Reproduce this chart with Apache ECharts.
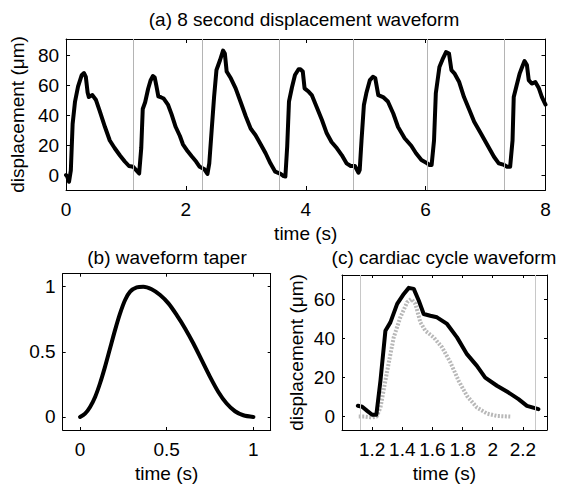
<!DOCTYPE html>
<html><head><meta charset="utf-8">
<script src="https://cdn.jsdelivr.net/npm/echarts@6/dist/echarts.min.js"></script>
<style>html,body{margin:0;padding:0;background:#fff}#c{width:562px;height:488px}</style>
</head><body><div id="c"></div>
<script>
// (a) 8 second displacement waveform
const waveTime = [0.00,0.02,0.05,0.08,0.11,0.15,0.20,0.26,0.30,0.33,0.36,0.38,0.44,0.50,0.56,0.65,0.73,0.81,0.90,0.98,1.05,1.12,1.17,1.22,1.23,1.255,1.28,1.32,1.37,1.41,1.45,1.48,1.51,1.54,1.59,1.63,1.70,1.76,1.83,1.90,1.95,2.03,2.10,2.17,2.23,2.31,2.36,2.39,2.43,2.47,2.51,2.57,2.62,2.65,2.68,2.75,2.83,2.91,3.00,3.08,3.16,3.24,3.33,3.41,3.49,3.58,3.63,3.66,3.69,3.72,3.77,3.82,3.88,3.91,3.95,3.98,4.05,4.10,4.18,4.27,4.35,4.43,4.52,4.60,4.68,4.75,4.82,4.88,4.90,4.93,4.97,5.01,5.07,5.12,5.16,5.21,5.29,5.37,5.46,5.54,5.65,5.76,5.84,5.93,6.01,6.06,6.10,6.14,6.17,6.23,6.29,6.34,6.39,6.43,6.48,6.56,6.64,6.73,6.81,6.92,7.03,7.14,7.22,7.31,7.36,7.41,7.45,7.47,7.52,7.57,7.61,7.65,7.69,7.72,7.77,7.83,7.89,7.94,8.00];
const waveDisp = [0,-1,-4.5,3,34,49,59,66.5,68,65.5,55,52,53.3,50,43,32,23,18,13,9,6,5.5,3.3,1.0,1.0,18,44,48.5,57.5,63,66,65,59,52.5,51.7,51,47,40.6,32,26,20.5,15.8,12.3,9,5.5,3.8,0.7,7.8,30,52,70,76.7,83,81,69,64.5,57.8,49,39,31,26.7,21,14.5,7.8,2.2,0.7,-0.7,-1,19,49,58.5,66.7,70.5,70.5,69,57.8,55.5,53.3,45.5,36.7,27.8,22,17.8,13.3,7.8,6,6,1.5,3.3,23,46.7,54.5,63.3,65.5,64.5,53.3,52,49,41,32,24.5,19.5,14.5,10,8.2,6.7,6.7,23,54.5,72,77.8,82,81,70,67.8,62,52,43.3,35.5,27.8,20,12.2,7.8,6.7,5.5,5.5,23,52,60,67.8,72,76,73.3,63.3,61,62,57.8,52,47];
const cycleBoundaries = [1.116, 2.28, 3.56, 4.79, 6.02, 7.31];

// (b) waveform taper
const taperTime = [0,0.029,0.058,0.087,0.115,0.144,0.173,0.202,0.231,0.26,0.289,0.327,0.365,0.413,0.462,0.51,0.558,0.606,0.654,0.702,0.75,0.798,0.846,0.894,0.942,1.0];
const taperValue = [0,0.026,0.077,0.154,0.257,0.385,0.526,0.667,0.795,0.898,0.962,0.995,1.0,0.98,0.936,0.872,0.782,0.68,0.564,0.436,0.308,0.192,0.103,0.044,0.013,0];

// (c) cardiac cycle waveform
const cycleTime = [1.105,1.134,1.167,1.2,1.228,1.255,1.288,1.321,1.366,1.41,1.443,1.476,1.509,1.542,1.586,1.63,1.697,1.763,1.829,1.895,1.95,2.028,2.105,2.171,2.227,2.303];
const cycleDisp = [5.5,5,2.9,0.9,0.9,18.3,44,48.3,57.8,62.9,66,65.5,59.5,52.6,51.7,50.9,47.5,40.6,32,26,20,15.8,12.3,8.9,5.5,3.8];
const taperedTime = [1.111,1.15,1.2,1.23,1.255,1.3,1.343,1.387,1.432,1.46,1.487,1.52,1.553,1.608,1.664,1.719,1.774,1.829,1.895,1.962,2.028,2.116];
const taperedDisp = [0,0,-0.5,0,4.6,23.5,40.6,50.9,58.6,60.3,57.8,48.3,44,40.6,35.5,27.8,18.3,10.6,4.6,1.5,0.3,0];
const cycleMarks = [1.116, 2.28];

// tick labels
const ticksAx = [0,2,4,6,8];
const ticksAy = [0,20,40,60,80];
const ticksB = [0,0.5,1];
const ticksCx = [1.2,1.4,1.6,1.8,2,2.2];
const ticksCy = [0,20,40,60];

const FONT = 'Liberation Sans, Arial, Helvetica, sans-serif';
const FS = 19;
const fmt = v => String(parseFloat(Number(v).toFixed(3)));

function xAx(grid, min, max, ticks, name, top, tl) {
  return {
    type: 'value', gridIndex: grid, min: min, max: max, position: top ? 'top' : 'bottom',
    name: top ? '' : name, nameLocation: 'middle', nameGap: 34,
    nameTextStyle: {fontFamily: FONT, fontSize: FS, color: '#000'},
    axisLine: {show: true, onZero: false, lineStyle: {color: '#000', width: 1}},
    axisTick: {show: true, inside: true, length: tl, customValues: ticks, lineStyle: {color: '#000'}},
    axisLabel: {show: !top, customValues: ticks, margin: 10, fontFamily: FONT, fontSize: FS, color: '#000', formatter: fmt},
    splitLine: {show: false}
  };
}
function yAx(grid, min, max, ticks, name, right, tl) {
  return {
    type: 'value', gridIndex: grid, min: min, max: max, position: right ? 'right' : 'left',
    name: right ? '' : name, nameLocation: 'middle', nameGap: 36,
    nameTextStyle: {fontFamily: FONT, fontSize: FS, color: '#000'},
    axisLine: {show: true, onZero: false, lineStyle: {color: '#000', width: 1}},
    axisTick: {show: true, inside: true, length: tl, customValues: ticks, lineStyle: {color: '#000'}},
    axisLabel: {show: !right, customValues: ticks, margin: 7, fontFamily: FONT, fontSize: FS, color: '#000', formatter: fmt},
    splitLine: {show: false}
  };
}
const pairs = (xs, ys) => xs.map((x, i) => [x, ys[i]]);

const chart = echarts.init(document.getElementById('c'), null, {renderer: 'svg'});
chart.setOption({
  animation: false,
  backgroundColor: '#fff',
  textStyle: {fontFamily: FONT},
  grid: [
    {left: 63, top: 39, width: 482.5, height: 151},
    {left: 62.7, top: 273.7, width: 208, height: 156.3},
    {left: 342, top: 275, width: 205, height: 155}
  ],
  xAxis: [
    xAx(0, 0, 8, ticksAx, 'time (s)', false, 4),
    xAx(0, 0, 8, ticksAx, '', true, 4),
    xAx(1, -0.1, 1.1, ticksB, 'time (s)', false, 3),
    xAx(1, -0.1, 1.1, ticksB, '', true, 3),
    xAx(2, 1.0, 2.36, ticksCx, 'time (s)', false, 3),
    xAx(2, 1.0, 2.36, ticksCx, '', true, 3)
  ],
  yAxis: [
    yAx(0, -10, 90.7, ticksAy, 'displacement (μm)', false, 4),
    yAx(0, -10, 90.7, ticksAy, '', true, 4),
    yAx(1, -0.1, 1.1, ticksB, '', false, 3),
    yAx(1, -0.1, 1.1, ticksB, '', true, 3),
    yAx(2, -6.9, 72.6, ticksCy, 'displacement (μm)', false, 3),
    yAx(2, -6.9, 72.6, ticksCy, '', true, 3)
  ],
  graphic: [
    {type: 'text', x: 304, y: 19, style: {text: '(a) 8 second displacement waveform', x: 0, y: 0, align: 'center', verticalAlign: 'middle', font: FS + 'px ' + FONT, fill: '#000'}},
    {type: 'text', x: 167, y: 257, style: {text: '(b) waveform taper', x: 0, y: 0, align: 'center', verticalAlign: 'middle', font: FS + 'px ' + FONT, fill: '#000'}},
    {type: 'text', x: 444, y: 257, style: {text: '(c) cardiac cycle waveform', x: 0, y: 0, align: 'center', verticalAlign: 'middle', font: FS + 'px ' + FONT, fill: '#000'}}
  ],
  series: [
    {type: 'line', xAxisIndex: 0, yAxisIndex: 0, data: [], symbol: 'none', z: 1,
     markLine: {silent: true, symbol: ['none', 'none'], label: {show: false}, animation: false,
       lineStyle: {color: '#b4b4b4', width: 1, type: 'solid'}, emphasis: {disabled: true},
       data: cycleBoundaries.map(v => ({xAxis: v}))}},
    {type: 'line', xAxisIndex: 0, yAxisIndex: 0, data: pairs(waveTime, waveDisp), symbol: 'none', z: 3,
     lineStyle: {color: '#000', width: 4, join: 'round', cap: 'round'}},
    {type: 'line', xAxisIndex: 2, yAxisIndex: 2, data: pairs(taperTime, taperValue), symbol: 'none', smooth: 0.3,
     lineStyle: {color: '#000', width: 4, cap: 'round'}},
    {type: 'line', xAxisIndex: 4, yAxisIndex: 4, data: [], symbol: 'none', z: 1,
     markLine: {silent: true, symbol: ['none', 'none'], label: {show: false}, animation: false,
       lineStyle: {color: '#c8c8c8', width: 1, type: 'solid'}, emphasis: {disabled: true},
       data: cycleMarks.map(v => ({xAxis: v}))}},
    {type: 'line', xAxisIndex: 4, yAxisIndex: 4, data: pairs(taperedTime, taperedDisp), symbol: 'none', z: 2,
     lineStyle: {color: '#b8b8b8', width: 4, type: [2, 1.5], join: 'round'}},
    {type: 'line', xAxisIndex: 4, yAxisIndex: 4, data: pairs(cycleTime, cycleDisp), symbol: 'none', z: 3,
     lineStyle: {color: '#000', width: 4, join: 'round', cap: 'round'}}
  ]
});
</script></body></html>
